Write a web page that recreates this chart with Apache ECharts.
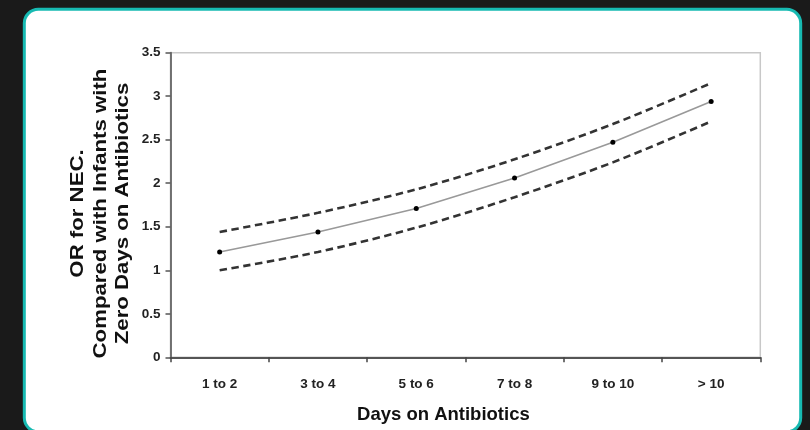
<!DOCTYPE html>
<html>
<head>
<meta charset="utf-8">
<script src="https://cdn.jsdelivr.net/npm/echarts@6/dist/echarts.min.js"></script>
<style>
  html, body { margin: 0; padding: 0; background: #1a1a1a; }
  #chart { width: 810px; height: 430px; }
</style>
</head>
<body>
<div id="chart"></div>
<script>
const categories = ['1 to 2', '3 to 4', '5 to 6', '7 to 8', '9 to 10', '> 10'];
const orValues = [1.21, 1.44, 1.71, 2.06, 2.47, 2.94];
const upperCI = [1.44, 1.66, 1.93, 2.275, 2.68, 3.15];
const lowerCI = [1.00, 1.21, 1.49, 1.84, 2.24, 2.71];
const yTitleLines = ['OR for NEC.', 'Compared with Infants with', 'Zero Days on Antibiotics'];
const xTitle = 'Days on Antibiotics';

const chart = echarts.init(document.getElementById('chart'), null, { renderer: 'canvas' });
const fontFam = '"Liberation Sans", Arial, sans-serif';

chart.setOption({
  animation: false,
  backgroundColor: '#1a1a1a',
  graphic: [
    {
      type: 'rect',
      z: -10,
      silent: true,
      shape: { x: 24.3, y: 9.3, width: 776.4, height: 422.5, r: 14 },
      style: { fill: '#ffffff', stroke: '#17bab2', lineWidth: 3 }
    },
    {
      type: 'text',
      x: 100.5,
      y: 213.5,
      rotation: Math.PI / 2,
      scaleX: 1.2,
      silent: true,
      style: {
        text: yTitleLines.join('\n'),
        fontFamily: fontFam,
        fontWeight: 'bold',
        fontSize: 18.5,
        lineHeight: 22.5,
        align: 'center',
        verticalAlign: 'middle',
        textAlign: 'center',
        textVerticalAlign: 'middle',
        fill: '#111111'
      }
    }
  ],
  grid: {
    left: 170.5,
    right: 49.7,
    top: 52.7,
    bottom: 72.7,
    show: true,
    backgroundColor: '#ffffff',
    borderColor: '#c8c8c8',
    borderWidth: 1.5
  },
  xAxis: {
    type: 'category',
    data: categories,
    boundaryGap: true,
    name: xTitle,
    nameLocation: 'middle',
    nameGap: 48,
    nameTextStyle: {
      fontFamily: fontFam,
      fontWeight: 'bold',
      fontSize: 18.5,
      color: '#111111',
      padding: [0, 44, 0, 0]
    },
    axisLine: { show: true, lineStyle: { color: '#555555', width: 1.8 } },
    axisTick: { show: true, alignWithLabel: false, length: 5, lineStyle: { color: '#444444', width: 1.5 } },
    axisLabel: {
      margin: 20,
      fontFamily: fontFam,
      fontWeight: 'bold',
      fontSize: 13.5,
      color: '#222222'
    },
    splitLine: { show: false }
  },
  yAxis: {
    type: 'value',
    min: 0,
    max: 3.5,
    interval: 0.5,
    axisLine: { show: true, lineStyle: { color: '#666666', width: 1.8 } },
    axisTick: { show: true, length: 5, lineStyle: { color: '#555555', width: 1.5 } },
    axisLabel: {
      margin: 10,
      fontFamily: fontFam,
      fontWeight: 'bold',
      fontSize: 13.5,
      color: '#222222'
    },
    splitLine: { show: false }
  },
  series: [
    {
      name: 'Upper CI',
      type: 'line',
      data: upperCI,
      smooth: 0.3,
      showSymbol: false,
      lineStyle: { color: '#333333', width: 2.6, type: [7.5, 4.5] },
      z: 2
    },
    {
      name: 'Lower CI',
      type: 'line',
      data: lowerCI,
      smooth: 0.3,
      showSymbol: false,
      lineStyle: { color: '#333333', width: 2.6, type: [7.5, 4.5] },
      z: 2
    },
    {
      name: 'OR',
      type: 'line',
      data: orValues,
      symbol: 'circle',
      symbolSize: 5,
      itemStyle: { color: '#000000' },
      lineStyle: { color: '#999999', width: 1.6 },
      z: 3
    }
  ]
});
</script>
</body>
</html>
